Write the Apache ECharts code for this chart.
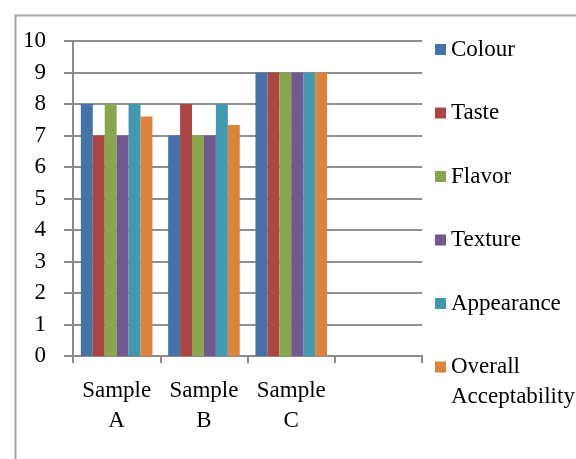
<!DOCTYPE html>
<html>
<head>
<meta charset="utf-8">
<script src="https://cdn.jsdelivr.net/npm/echarts@6/dist/echarts.min.js"></script>
<style>
html,body{margin:0;padding:0;background:#fff;}
#chart{width:576px;height:459px;}
</style>
</head>
<body>
<div id="chart"></div>
<script>
var categories = ['Sample\nA', 'Sample\nB', 'Sample\nC', ''];
var seriesNames = ['Colour', 'Taste', 'Flavor', 'Texture', 'Appearance', 'Overall Acceptability'];
var colour = [8, 7, 9];
var taste = [7, 8, 9];
var flavor = [8, 7, 9];
var texture = [7, 7, 9];
var appearance = [8, 8, 9];
var overall = [7.6, 7.33, 9];
var yTicks = [0, 1, 2, 3, 4, 5, 6, 7, 8, 9, 10];

var values = [colour, taste, flavor, texture, appearance, overall];
var colors = ['#4572A7', '#AA4643', '#89A54E', '#71588F', '#4198AF', '#DB843D'];
var FONT = 'Liberation Serif';
var FS = 23;

function legendBase(extra) {
  var o = {
    orient: 'vertical',
    left: 435,
    padding: 0,
    height: 420,
    itemGap: 33.5,
    itemWidth: 11,
    itemHeight: 11,
    icon: 'rect',
    textStyle: {fontFamily: FONT, fontSize: FS, color: '#000', lineHeight: 30}
  };
  for (var k in extra) o[k] = extra[k];
  return o;
}

var chart = echarts.init(document.getElementById('chart'), null, {renderer: 'canvas'});
var option = {
  animation: false,
  backgroundColor: '#ffffff',
  color: colors,
  graphic: [{
    type: 'rect', left: 13, top: 13, z: -10,
    shape: {width: 620, height: 520},
    style: {fill: 'none', stroke: '#a8a8a8', lineWidth: 2}
  }],
  grid: {left: 73, top: 41, width: 349.2, height: 315, containLabel: false},
  legend: [
    legendBase({top: 34.5, data: seriesNames.slice(0, 5)}),
    legendBase({
      top: 322, height: 130,
      data: seriesNames.slice(5),
      formatter: function (name) {
        return '\u00a0\nOverall\nAcceptability';
      }
    })
  ],
  xAxis: {
    type: 'category',
    data: categories,
    boundaryGap: true,
    axisLine: {lineStyle: {color: '#8a8a8a', width: 2}},
    axisTick: {show: true, length: 7, lineStyle: {color: '#8a8a8a', width: 2}},
    axisLabel: {fontFamily: FONT, fontSize: FS, color: '#000', lineHeight: 30, margin: 20, interval: 0}
  },
  yAxis: {
    type: 'value',
    min: yTicks[0],
    max: yTicks[yTicks.length - 1],
    interval: 1,
    axisLine: {show: true, lineStyle: {color: '#8a8a8a', width: 2}},
    axisTick: {show: true, length: 9, lineStyle: {color: '#8a8a8a', width: 2}},
    axisLabel: {fontFamily: FONT, fontSize: FS, color: '#000', margin: 27},
    splitLine: {show: true, lineStyle: {color: '#8f8f8f', width: 2}}
  },
  series: seriesNames.map(function (n, i) {
    return {
      name: n,
      type: 'bar',
      data: values[i],
      barGap: '0%',
      barCategoryGap: '18%',
      itemStyle: {color: colors[i]}
    };
  })
};
chart.setOption(option);
</script>
</body>
</html>
